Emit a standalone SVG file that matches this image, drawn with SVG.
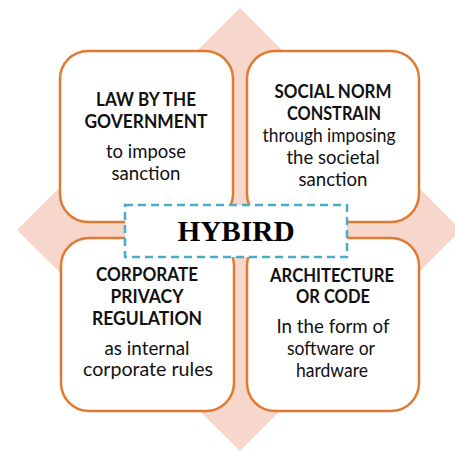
<svg xmlns="http://www.w3.org/2000/svg" width="455" height="451" viewBox="0 0 455 451">
  <style>
    .box { fill: #ffffff; stroke: #E07A33; stroke-width: 2.5; }
    .hub { fill: #ffffff; stroke: #4BACC6; stroke-width: 2.5; stroke-dasharray: 8 5; }
    .hd { font-family: Lato, "Liberation Sans", sans-serif; font-weight: bold; font-size: 18px; fill: #111111; text-anchor: middle; }
    .bd { font-family: Lato, "Liberation Sans", sans-serif; font-size: 18.5px; fill: #111111; text-anchor: middle; }
    .hy { font-family: "Liberation Serif", "Times New Roman", serif; font-weight: bold; font-size: 29px; fill: #000000; text-anchor: middle; }
  </style>
  <rect width="455" height="451" fill="#ffffff"/>
  <g id="background">
    <polygon points="240,8 461,230 240,451 17,230" fill="#F7D6CB"/>
  </g>
  <g id="connectors"></g>
  <g id="node-law">
    <rect class="box" x="60" y="51" width="173" height="171" rx="28" ry="28"/>
    <text class="hd" x="146" y="106" textLength="100" lengthAdjust="spacingAndGlyphs">LAW BY THE</text>
    <text class="hd" x="146" y="128" textLength="123" lengthAdjust="spacingAndGlyphs">GOVERNMENT</text>
    <text class="bd" x="146" y="158" textLength="80" lengthAdjust="spacingAndGlyphs">to impose</text>
    <text class="bd" x="146" y="180" textLength="69" lengthAdjust="spacingAndGlyphs">sanction</text>
  </g>
  <g id="node-social">
    <rect class="box" x="247" y="51" width="172" height="171" rx="28" ry="28"/>
    <text class="hd" x="333" y="98" textLength="117" lengthAdjust="spacingAndGlyphs">SOCIAL NORM</text>
    <text class="hd" x="334" y="120" textLength="94" lengthAdjust="spacingAndGlyphs">CONSTRAIN</text>
    <text class="bd" x="329" y="142" textLength="133" lengthAdjust="spacingAndGlyphs">through imposing</text>
    <text class="bd" x="333" y="164" textLength="93" lengthAdjust="spacingAndGlyphs">the societal</text>
    <text class="bd" x="333" y="186" textLength="69" lengthAdjust="spacingAndGlyphs">sanction</text>
  </g>
  <g id="node-corporate">
    <rect class="box" x="61" y="238" width="173" height="173" rx="28" ry="28"/>
    <text class="hd" x="147" y="281" textLength="102" lengthAdjust="spacingAndGlyphs">CORPORATE</text>
    <text class="hd" x="147" y="303" textLength="73" lengthAdjust="spacingAndGlyphs">PRIVACY</text>
    <text class="hd" x="147" y="325" textLength="110" lengthAdjust="spacingAndGlyphs">REGULATION</text>
    <text class="bd" x="147" y="355" textLength="85" lengthAdjust="spacingAndGlyphs">as internal</text>
    <text class="bd" x="148" y="376" textLength="130" lengthAdjust="spacingAndGlyphs">corporate rules</text>
  </g>
  <g id="node-architecture">
    <rect class="box" x="247" y="238" width="172" height="173" rx="28" ry="28"/>
    <text class="hd" x="332" y="282" textLength="124" lengthAdjust="spacingAndGlyphs">ARCHITECTURE</text>
    <text class="hd" x="333" y="303" textLength="74" lengthAdjust="spacingAndGlyphs">OR CODE</text>
    <text class="bd" x="333" y="333" textLength="113" lengthAdjust="spacingAndGlyphs">In the form of</text>
    <text class="bd" x="331" y="355" textLength="88" lengthAdjust="spacingAndGlyphs">software or</text>
    <text class="bd" x="332" y="377" textLength="72" lengthAdjust="spacingAndGlyphs">hardware</text>
  </g>
  <g id="node-hybird">
    <rect class="hub" x="125" y="205" width="222" height="52"/>
    <text class="hy" x="236" y="241" textLength="117" lengthAdjust="spacingAndGlyphs">HYBIRD</text>
  </g>
</svg>
